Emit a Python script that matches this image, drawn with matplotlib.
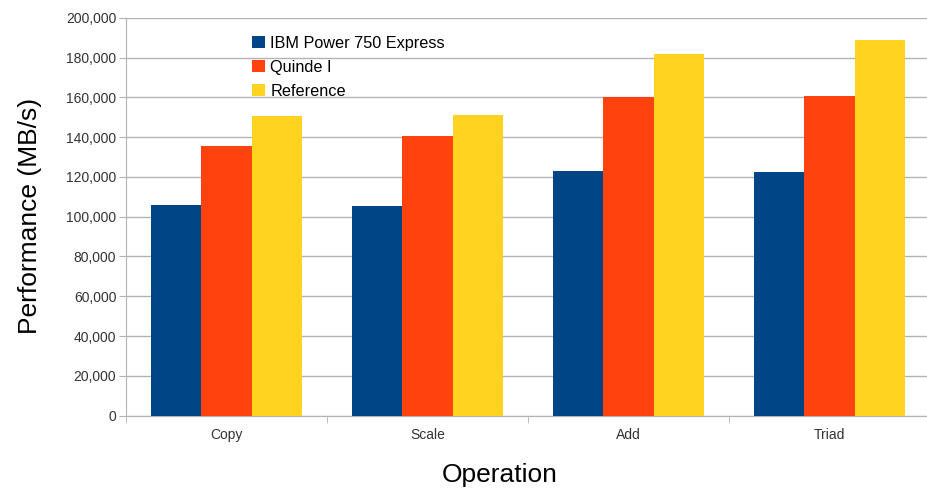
import matplotlib
matplotlib.use("Agg")
import matplotlib.pyplot as plt
import numpy as np
from matplotlib.ticker import FuncFormatter, FixedLocator

plt.rcParams['font.family'] = ['Liberation Sans', 'DejaVu Sans']

categories = ["Copy", "Scale", "Add", "Triad"]
series_names = ["IBM Power 750 Express", "Quinde I", "Reference"]
ibm = [106000, 105400, 122900, 122500]
quinde = [135500, 140400, 160250, 160750]
reference = [150900, 151400, 181700, 189000]
colors = ["#004586", "#ff420e", "#ffd320"]

fig = plt.figure(figsize=(9.27, 4.90), dpi=100)
ax = fig.add_axes([126/927, 74.5/490, 804/927, 397.5/490])

x = np.arange(len(categories))
w = 0.25
for i, (vals, name, c) in enumerate(zip([ibm, quinde, reference], series_names, colors)):
    ax.bar(x + (i - 1) * w, vals, width=w, color=c, label=name, zorder=3, linewidth=0)

ax.set_xlim(-0.5, len(categories) - 0.5)
ax.set_ylim(0, 200000)
ax.set_yticks(np.arange(0, 200001, 20000))
ax.yaxis.set_major_formatter(FuncFormatter(lambda v, p: f"{int(v):,}"))
ax.grid(axis='y', color='#b3b3b3', linewidth=1, zorder=0)

ax.set_xticks(x)
ax.set_xticklabels(categories)
ax.tick_params(axis='x', which='major', length=0, pad=9, labelsize=10, colors='#333333')
ax.xaxis.set_minor_locator(FixedLocator(np.arange(-0.5, len(categories), 1.0)))
ax.tick_params(axis='x', which='minor', length=5, color='#b3b3b3')
ax.tick_params(axis='y', length=5, color='#b3b3b3', labelsize=10, labelcolor='#333333', pad=2)

for s in ['top', 'right']:
    ax.spines[s].set_visible(False)
for s in ['left', 'bottom']:
    ax.spines[s].set_color('#b3b3b3')

fig.text(30/927, 1 - 216/490, "Performance (MB/s)", fontsize=19, rotation=90,
         ha='center', va='center')
fig.text(500/927, 1 - 475/490, "Operation", fontsize=19, ha='center', va='center')

leg = ax.legend(loc='upper left', bbox_to_anchor=(0.149, 0.972), frameon=False,
                fontsize=11.7, handlelength=0.8, handleheight=0.8, handletextpad=0.3,
                labelspacing=0.55, borderaxespad=0)

fig.savefig("out.png", dpi=100)
